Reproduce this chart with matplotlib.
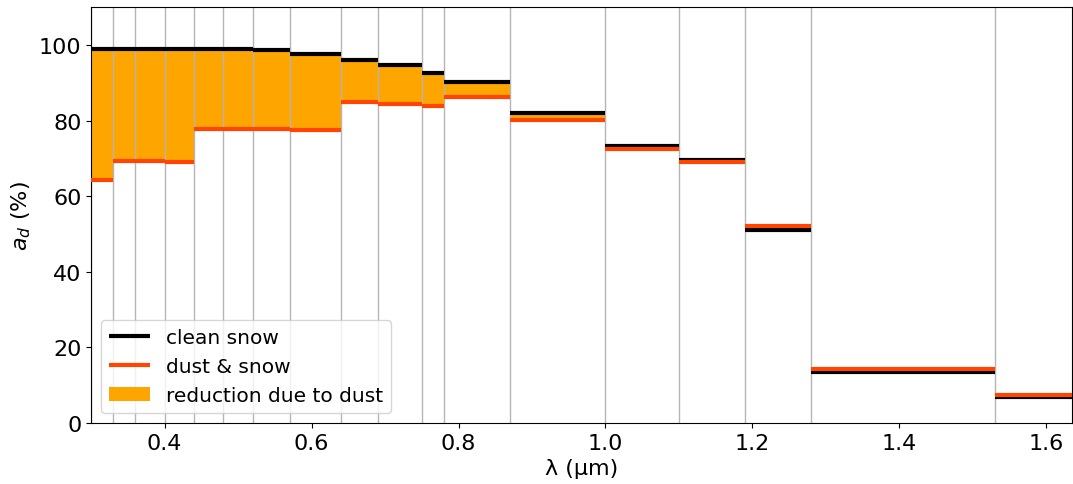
import numpy as np
import matplotlib
matplotlib.use("Agg")
import matplotlib.pyplot as plt

# band edges (µm)
edges = [0.30, 0.33, 0.36, 0.40, 0.44, 0.48, 0.52, 0.57, 0.64, 0.69,
         0.75, 0.78, 0.87, 1.00, 1.10, 1.19, 1.28, 1.53, 1.635]
# albedo per band (%)
clean_snow = [99.0, 99.0, 99.0, 99.0, 99.0, 99.0, 98.6, 97.5, 96.1, 94.6,
              92.7, 90.3, 81.9, 73.2, 69.5, 51.1, 13.4, 6.8]
dust_snow = [64.3, 69.4, 69.2, 69.0, 77.8, 77.8, 77.7, 77.5, 84.8, 84.4,
             83.8, 86.2, 80.1, 72.5, 69.0, 52.0, 14.3, 7.5]

edges = np.array(edges)
clean = np.array(clean_snow)
dust = np.array(dust_snow)
left = edges[:-1]
right = edges[1:]

fig, ax = plt.subplots(figsize=(10.73, 4.85), dpi=100)
fig.subplots_adjust(left=0.085, right=0.999, top=0.983, bottom=0.126)

# reduction (only where dust lowers the albedo)
red = np.where(clean > dust, clean - dust, 0)
ax.bar(left, red, width=right - left, bottom=dust, align="edge",
       color="orange", label="reduction due to dust", zorder=1)

for e in edges[:-1]:
    ax.axvline(e, color="#b5b5b5", lw=1, zorder=2)

ax.hlines(clean, left, right, color="black", lw=3, label="clean snow", zorder=3)
ax.hlines(dust, left, right, color="orangered", lw=3, label="dust & snow", zorder=3)

ax.set_xlim(edges[0], edges[-1])
ax.set_ylim(0, 110)
ax.set_xlabel("λ (µm)", fontsize=16)
ax.set_ylabel("$a_d$ (%)", fontsize=16)
ax.tick_params(labelsize=16)

handles, labels = ax.get_legend_handles_labels()
order = [labels.index("clean snow"), labels.index("dust & snow"),
         labels.index("reduction due to dust")]
ax.legend([handles[i] for i in order], [labels[i] for i in order],
          loc="lower left", fontsize=14.5)

plt.savefig("out.png")
